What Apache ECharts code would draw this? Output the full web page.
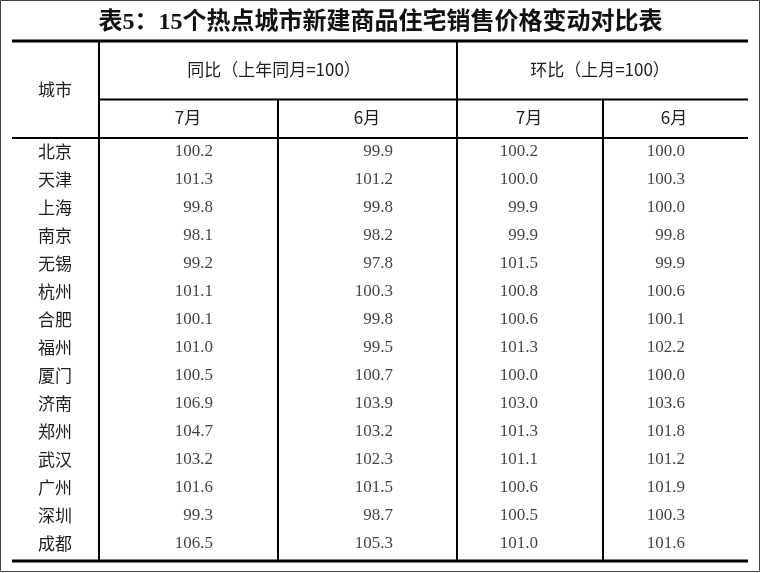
<!DOCTYPE html>
<html>
<head>
<meta charset="utf-8">
<script src="https://cdn.jsdelivr.net/npm/echarts@6/dist/echarts.min.js"></script>
<style>
html,body{margin:0;padding:0;background:#fff;}
#c{width:761px;height:573px;}
</style>
</head>
<body>
<div id="c"></div>
<script>
// ---- data ----
var cities = ['北京','天津','上海','南京','无锡','杭州','合肥','福州','厦门','济南','郑州','武汉','广州','深圳','成都'];
var yoyJul = [100.2,101.3,99.8,98.1,99.2,101.1,100.1,101.0,100.5,106.9,104.7,103.2,101.6,99.3,106.5];
var yoyJun = [99.9,101.2,99.8,98.2,97.8,100.3,99.8,99.5,100.7,103.9,103.2,102.3,101.5,98.7,105.3];
var momJul = [100.2,100.0,99.9,99.9,101.5,100.8,100.6,101.3,100.0,103.0,101.3,101.1,100.6,100.5,101.0];
var momJun = [100.0,100.3,100.0,99.8,99.9,100.6,100.1,102.2,100.0,103.6,101.8,101.2,101.9,100.3,101.6];
var titleText = '表5：15个热点城市新建商品住宅销售价格变动对比表';
var headCity = '城市';
var headYoy = '同比（上年同月=100）';
var headMom = '环比（上月=100）';
var headMonths = ['7月','6月','7月','6月'];

// ---- layout (pixels) ----
var colAnchor = [213, 393, 538, 685];   // right edge of values in each column
var CJK = '"Noto Sans CJK SC","Noto Sans",sans-serif';
var SERIF = '"Liberation Serif","DejaVu Serif",serif';
var TXT = '#1e1e1e';

var chart = echarts.init(document.getElementById('c'));

function col(values, k){
  return {
    type: 'scatter',
    symbolSize: 0,
    silent: true,
    data: values.map(function(v, i){ return [colAnchor[k], cities[i], v]; }),
    label: {
      show: true,
      position: 'left',
      distance: 0,
      formatter: function(p){ return p.value[2].toFixed(1); },
      fontFamily: SERIF,
      fontSize: 17,
      color: '#111'
    }
  };
}

function hline(x1, x2, y, w){
  return {type:'line', shape:{x1:x1,y1:y,x2:x2,y2:y}, style:{stroke:'#000', lineWidth:w}, silent:true};
}
function vline(x, y1, y2, w){
  return {type:'line', shape:{x1:x,y1:y1,x2:x,y2:y2}, style:{stroke:'#000', lineWidth:w}, silent:true};
}
function txt(s, x, y, font){
  return {type:'text', x:x, y:y, silent:true,
    style:{text:s, fill:TXT, font:font, textAlign:'center', textVerticalAlign:'middle'}};
}

var hf = '17px ' + CJK;
var graphics = [
  {type:'rect', shape:{x:0.5,y:0.5,width:759,height:571}, style:{fill:'none', stroke:'#444', lineWidth:1}, silent:true},
  hline(12, 748, 41, 3),
  hline(99, 748, 99.5, 2),
  hline(12, 748, 138, 2),
  hline(12, 748, 561, 3),
  vline(99, 41, 561, 2),
  vline(457, 41, 561, 2),
  vline(278, 99, 561, 2),
  vline(603, 99, 561, 2),
  txt(headCity, 55, 90, hf),
  txt(headYoy, 274, 70, hf),
  txt(headMom, 600, 70, hf),
  txt(headMonths[0], 188, 118, hf),
  txt(headMonths[1], 367, 118, hf),
  txt(headMonths[2], 529, 118, hf),
  txt(headMonths[3], 674, 118, hf)
];

chart.setOption({
  animation: false,
  backgroundColor: '#fff',
  title: {
    text: titleText,
    left: 'center',
    top: 6,
    textStyle: {fontFamily: '"Liberation Serif","Noto Sans CJK SC",serif', fontWeight: 'bold', fontSize: 24, color: '#111'}
  },
  grid: {left: 99, right: 13, top: 138, bottom: 15},
  xAxis: {type: 'value', min: 99, max: 748, show: false},
  yAxis: {
    type: 'category',
    data: cities,
    inverse: true,
    axisLine: {show: false},
    axisTick: {show: false},
    splitLine: {show: false},
    axisLabel: {align: 'center', margin: 44, fontFamily: CJK, fontSize: 17, color: TXT}
  },
  series: [col(yoyJul,0), col(yoyJun,1), col(momJul,2), col(momJun,3)],
  graphic: graphics
});
</script>
</body>
</html>
